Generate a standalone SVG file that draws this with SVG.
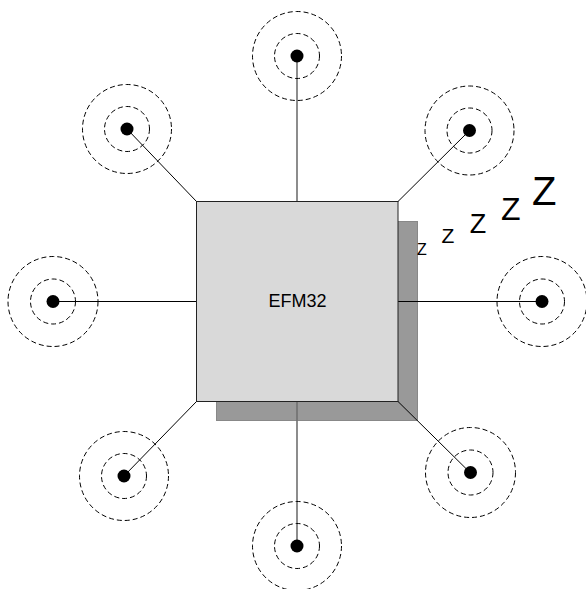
<svg xmlns="http://www.w3.org/2000/svg" width="586" height="589" viewBox="0 0 586 589">
<style>
.ring{fill:none;stroke:#000;stroke-width:1;stroke-dasharray:5 3}
.dot{fill:#000}
.ln{stroke:#000;stroke-width:1;fill:none}
.lv{stroke:#707070;stroke-width:1.6;fill:none}
.z{font-family:"Liberation Sans",Arial,sans-serif;fill:#000;text-anchor:middle}
</style>
<rect width="586" height="589" fill="#fff"/>
<g id="chip-shadow">
<rect x="216.5" y="221.5" width="201" height="199" fill="#999" stroke="#888" stroke-width="1"/>
</g>
<g id="connectors">
<line class="lv" x1="297" y1="56" x2="297" y2="201.5"/>
<line class="lv" x1="297" y1="401.5" x2="297" y2="546"/>
<line class="ln" x1="53" y1="301.5" x2="196.5" y2="301.5"/>
<line class="ln" x1="398" y1="301.5" x2="542" y2="301.5"/>
<line class="ln" x1="127" y1="129" x2="196.5" y2="201.5"/>
<line class="ln" x1="469.5" y1="130.5" x2="398" y2="201.5"/>
<line class="ln" x1="398" y1="401.5" x2="470" y2="472.5"/>
<line class="ln" x1="124" y1="476" x2="196.5" y2="401.5"/>
</g>
<g id="chip">
<rect x="196.5" y="201.5" width="201.5" height="200" fill="#d9d9d9" stroke="#222" stroke-width="1"/>
<text x="297.5" y="306.5" font-size="18" class="z">EFM32</text>
</g>
<g id="sensor-top">
<circle class="ring" cx="297" cy="56" r="44.5"/><circle class="ring" cx="297" cy="56" r="22.5"/><circle class="dot" cx="297" cy="56" r="6.5"/>
</g>
<g id="sensor-top-right">
<circle class="ring" cx="469.5" cy="130.5" r="44.5"/><circle class="ring" cx="469.5" cy="130.5" r="22.5"/><circle class="dot" cx="469.5" cy="130.5" r="6.5"/>
</g>
<g id="sensor-right">
<circle class="ring" cx="542" cy="301.5" r="45"/><circle class="ring" cx="542" cy="301.5" r="22.5"/><circle class="dot" cx="542" cy="301.5" r="6.5"/>
</g>
<g id="sensor-bottom-right">
<circle class="ring" cx="470.5" cy="472.5" r="45"/><circle class="ring" cx="470.5" cy="472.5" r="22.5"/><circle class="dot" cx="470.5" cy="472.5" r="6.5"/>
</g>
<g id="sensor-bottom">
<circle class="ring" cx="297" cy="546" r="44.5"/><circle class="ring" cx="297" cy="546" r="22.5"/><circle class="dot" cx="297" cy="546" r="6.5"/>
</g>
<g id="sensor-bottom-left">
<circle class="ring" cx="124" cy="476" r="44.5"/><circle class="ring" cx="124" cy="476" r="22.5"/><circle class="dot" cx="124" cy="476" r="6.5"/>
</g>
<g id="sensor-left">
<circle class="ring" cx="53" cy="301.5" r="45"/><circle class="ring" cx="53" cy="301.5" r="22.5"/><circle class="dot" cx="53" cy="301.5" r="6.5"/>
</g>
<g id="sensor-top-left">
<circle class="ring" cx="127" cy="129" r="44.5"/><circle class="ring" cx="127" cy="129" r="22.5"/><circle class="dot" cx="127" cy="129" r="6.5"/>
</g>
<g id="sleep">
<text class="z" x="422" y="255" font-size="16">Z</text>
<text class="z" x="448" y="243.3" font-size="21">Z</text>
<text class="z" x="478" y="232.7" font-size="27">Z</text>
<text class="z" x="510.8" y="220" font-size="32">Z</text>
<text class="z" x="544.2" y="205" font-size="40">Z</text>
</g>
</svg>
